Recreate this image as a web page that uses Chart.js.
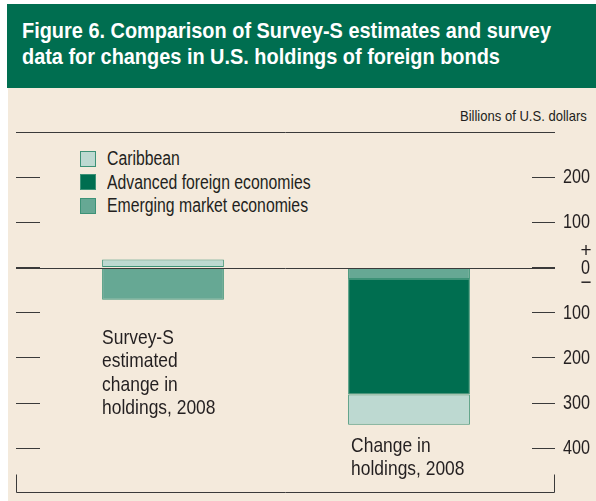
<!DOCTYPE html>
<html>
<head>
<meta charset="utf-8">
<script src="https://cdn.jsdelivr.net/npm/chart.js@4"></script>
<style>
  body { margin:0; width:596px; height:501px; background:#fff; position:relative; overflow:hidden;
         font-family:"Liberation Sans",Arial,sans-serif; color:#231f20; }
  #head  { position:absolute; left:7px; top:4px; width:589px; height:84px; background:#006e50; }
  #head div { position:absolute; left:15px; color:#fff; font-size:22.5px; font-weight:bold; white-space:nowrap;
              transform-origin:0 0; line-height:22px; }
  #panel { position:absolute; left:8px; top:88px; width:588px; height:413px; background:#f4eadc; }
  #unit  { position:absolute; right:9px; top:107px; font-size:15px; white-space:nowrap;
           transform:scaleX(0.87); transform-origin:100% 0; }
  #legend { position:absolute; left:80px; top:147px; }
  .item { height:23.6px; display:flex; align-items:center; font-size:19.5px; white-space:nowrap; }
  .sw { width:14px; height:14px; border:1px solid #3d9277; margin-right:11px; flex:none; }
  .item span.t { display:inline-block; transform:scaleX(0.81); transform-origin:0 50%; }
  canvas { position:absolute; left:0; top:0; }
</style>
</head>
<body>
<div id="head">
  <div id="t1" style="top:16px">Figure 6. Comparison of Survey-S estimates and survey</div>
  <div id="t2" style="top:42px">data for changes in U.S. holdings of foreign bonds</div>
</div>
<div id="panel"></div>
<div id="unit">Billions of U.S. dollars</div>
<div id="legend"></div>
<div style="position:absolute;left:0;top:0;width:596px;height:501px"><canvas id="c"></canvas></div>
<script>
// data ----------------------------------------------------------
const categories = [["Survey-S", "estimated", "change in", "holdings, 2008"],
                    ["Change in", "holdings, 2008"]];
const caribbean = [18, -67];
const advanced  = [0, -256];
const emerging  = [-71, -25];
const tickValues = [-400, -300, -200, -100, 0, 100, 200];

// legend order as in the figure
const legendItems = [
  ["Caribbean", "#bdd9d1"],
  ["Advanced foreign economies", "#006e50"],
  ["Emerging market economies", "#66a894"]
];

const FONT = '"Liberation Sans",Arial,sans-serif';
const INK = "#231f20";

// title: squeeze to a condensed look
const t1 = document.getElementById("t1"), t2 = document.getElementById("t2");
const sx = 529 / t1.getBoundingClientRect().width;
t1.style.transform = t2.style.transform = `scaleX(${sx})`;

// html legend
const legendEl = document.getElementById("legend");
legendItems.forEach(([name, col]) => {
  const d = document.createElement("div");
  d.className = "item";
  d.innerHTML = `<span class="sw" style="background:${col}"></span><span class="t">${name}</span>`;
  legendEl.appendChild(d);
});

// narrow text on canvas
function nText(ctx, t, x, y, s, align) {
  ctx.save();
  ctx.translate(x, y);
  ctx.scale(s, 1);
  ctx.textAlign = align;
  ctx.fillText(t, 0, 0);
  ctx.restore();
}

// lines, bracket, tick labels and bar captions
const decor = {
  id: "decor",
  afterDatasetsDraw(chart) {
    const {ctx, chartArea: a, scales} = chart;
    const y = scales.y;
    const x0 = scales.yl.left, x1 = a.right + 23;
    ctx.save();
    ctx.strokeStyle = "#3a3a3a";
    ctx.lineWidth = 1;
    ctx.beginPath();
    ctx.moveTo(x0, a.top + 0.5); ctx.lineTo(x1, a.top + 0.5);
    const z = Math.round(y.getPixelForValue(0)) + 0.5;
    ctx.moveTo(x0, z); ctx.lineTo(x1, z);
    const b = a.bottom + 12.5;
    ctx.moveTo(x0 + 0.5, b - 18); ctx.lineTo(x0 + 0.5, b); ctx.lineTo(x1 - 0.5, b); ctx.lineTo(x1 - 0.5, b - 18);
    ctx.stroke();

    ctx.fillStyle = INK;
    ctx.textBaseline = "alphabetic";
    // tick labels
    ctx.font = "20px " + FONT;
    y.ticks.forEach(t => {
      const py = y.getPixelForValue(t.value);
      if (t.value === 0) {
        nText(ctx, "0", x1 + 35, py + 6, 0.81, "right");
        ctx.font = "21px " + FONT;
        nText(ctx, "+", x1 + 31, py - 11, 0.9, "center");
        nText(ctx, "\u2212", x1 + 31, py + 21, 0.9, "center");
        ctx.font = "20px " + FONT;
      } else {
        nText(ctx, String(Math.abs(t.value)), x1 + 35, py + 6, 0.81, "right");
      }
    });

    // captions under bars
    const anchors = [-168, -408];
    const bars = chart.getDatasetMeta(0).data;
    ctx.font = "21px " + FONT;
    categories.forEach((lines, i) => {
      const bx = bars[i].x - bars[i].width / 2 + (i ? 3 : 0);
      const by = y.getPixelForValue(anchors[i]);
      lines.forEach((t, k) => nText(ctx, t, bx, by + k * 23.5, 0.83, "left"));
    });
    ctx.restore();
  }
};

new Chart(document.getElementById("c"), {
  type: "bar",
  data: {
    labels: categories.map(c => c.join(" ")),
    datasets: [
      { label: "Emerging market economies", data: emerging, backgroundColor: "#66a894" },
      { label: "Advanced foreign economies", data: advanced, backgroundColor: "#006e50" },
      { label: "Caribbean", data: caribbean, backgroundColor: "#bdd9d1" }
    ].map(d => Object.assign(d, { borderColor: "#3d9277", borderWidth: 1, borderSkipped: false }))
  },
  options: {
    responsive: true,
    maintainAspectRatio: false,
    animation: false,
    layout: { padding: { left: 16, top: 132, bottom: 21, right: 0 } },
    datasets: { bar: { categoryPercentage: 1, barPercentage: 0.495 } },
    plugins: { legend: { display: false }, tooltip: { enabled: false } },
    scales: {
      x: { display: false, stacked: true },
      y: {
        position: "right", stacked: true, min: -470, max: 300,
        afterBuildTicks: s => { s.ticks = tickValues.map(v => ({ value: v })); },
        afterFit: s => { s.width = 64; },
        border: { display: false },
        grid: { drawOnChartArea: false, drawTicks: true, tickLength: 23, color: "#3a3a3a", lineWidth: 1 },
        ticks: { display: false }
      },
      yl: {
        position: "left", min: -470, max: 300,
        afterBuildTicks: s => { s.ticks = tickValues.map(v => ({ value: v })); },
        afterFit: s => { s.width = 24; },
        border: { display: false },
        grid: { drawOnChartArea: false, drawTicks: true, tickLength: 24, color: "#3a3a3a", lineWidth: 1 },
        ticks: { display: false }
      }
    }
  },
  plugins: [decor]
});
</script>
</body>
</html>
